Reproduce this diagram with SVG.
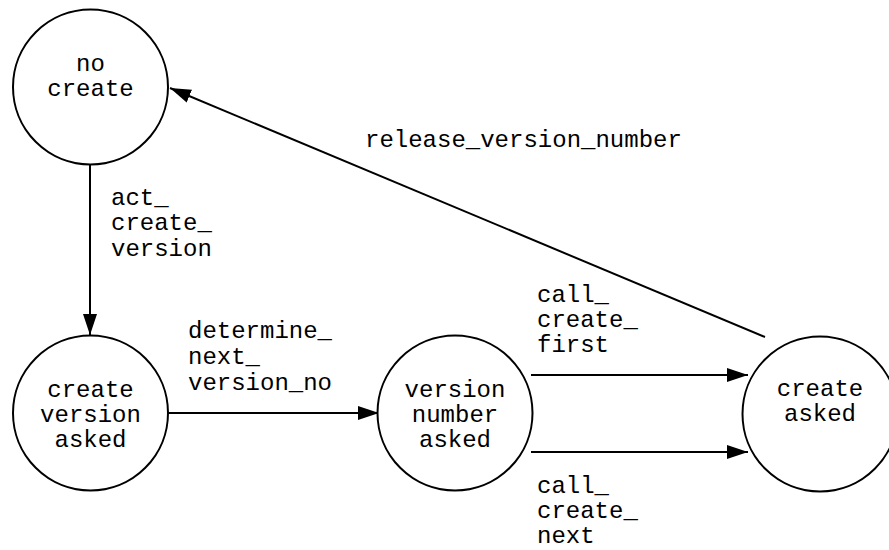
<svg xmlns="http://www.w3.org/2000/svg" width="889" height="550" viewBox="0 0 889 550">
  <style>
    .node circle { fill: #ffffff; stroke: #000000; stroke-width: 2; }
    text { font-family: "Liberation Mono", "Courier New", monospace; font-size: 24px; fill: #000000; }
    .ctr { text-anchor: middle; }
    .edge { stroke: #000000; stroke-width: 2; fill: none; marker-end: url(#arrow); }
  </style>
  <defs>
    <marker id="arrow" markerUnits="userSpaceOnUse" markerWidth="22" markerHeight="16" refX="21" refY="8" orient="auto">
      <path d="M0,1 L21,8 L0,15 Z" fill="#000000"/>
    </marker>
  </defs>
  <rect width="889" height="550" fill="#ffffff"/>

  <!-- transitions -->
  <g id="edges">
    <line class="edge" x1="90" y1="165" x2="90" y2="335"/>
    <line class="edge" x1="168" y1="413" x2="379" y2="413"/>
    <line class="edge" x1="531" y1="375" x2="748" y2="375"/>
    <line class="edge" x1="531" y1="452" x2="748" y2="452"/>
    <line class="edge" x1="765" y1="337" x2="170" y2="88"/>
    <text x="111" y="205">act_</text>
    <text x="111" y="230">create_</text>
    <text x="111" y="256">version</text>
    <text x="188" y="338">determine_</text>
    <text x="188" y="364">next_</text>
    <text x="188" y="390">version_no</text>
    <text x="537" y="302">call_</text>
    <text x="537" y="327">create_</text>
    <text x="537" y="352">first</text>
    <text x="537" y="493">call_</text>
    <text x="537" y="518">create_</text>
    <text x="537" y="543">next</text>
    <text x="365" y="147">release_version_number</text>
  </g>

  <!-- states -->
  <g id="no_create" class="node">
    <circle cx="90.5" cy="87" r="77.5"/>
    <text class="ctr" x="90.5" y="71">no</text>
    <text class="ctr" x="90.5" y="96">create</text>
  </g>
  <g id="create_version_asked" class="node">
    <circle cx="90.5" cy="413" r="77.5"/>
    <text class="ctr" x="90.5" y="397">create</text>
    <text class="ctr" x="90.5" y="422">version</text>
    <text class="ctr" x="90.5" y="447">asked</text>
  </g>
  <g id="version_number_asked" class="node">
    <circle cx="455" cy="413" r="77.5"/>
    <text class="ctr" x="455" y="397">version</text>
    <text class="ctr" x="455" y="422">number</text>
    <text class="ctr" x="455" y="447">asked</text>
  </g>
  <g id="create_asked" class="node">
    <circle cx="820" cy="414" r="77.5"/>
    <text class="ctr" x="820" y="396">create</text>
    <text class="ctr" x="820" y="421">asked</text>
  </g>
</svg>
